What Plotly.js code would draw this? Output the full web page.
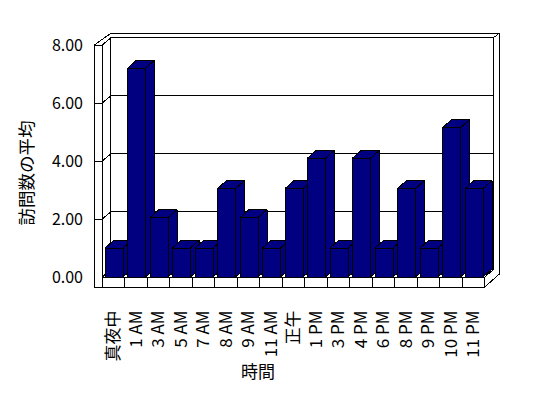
<!DOCTYPE html>
<html>
<head>
<meta charset="utf-8">
<script src="https://cdn.plot.ly/plotly-3.0.1.min.js"></script>
<style>
  html, body { margin: 0; padding: 0; background: #fff; }
  #chart { width: 548px; height: 398px; }
  #chart path { shape-rendering: crispEdges; }
</style>
</head>
<body>
<div id="chart"></div>
<script>
// ---- data ----
const categories = ['真夜中', '1 AM', '3 AM', '5 AM', '7 AM', '8 AM', '9 AM', '11 AM', '正午',
                    '1 PM', '3 PM', '4 PM', '6 PM', '8 PM', '9 PM', '10 PM', '11 PM'];
const avgVisits = [1, 7.2, 2.05, 1, 1, 3.05, 2.05, 1, 3.05, 4.1, 1, 4.1, 1, 3.05, 1, 5.15, 3.05];
const yTickVals = [0, 2, 4, 6, 8];
const yTickText = ['0.00', '2.00', '4.00', '6.00', '8.00'];
const xTitle = '時間';
const yTitle = '訪問数の平均';

// ---- geometry (pixel layout of the 3D box) ----
const W = 548, H = 398;
const PL = 90, PR = 505, PT = 30, PB = 316;
const FRONT_X0 = 102.3, CAT_PX = 22.5, ZERO_Y = 277, UNIT_PX = 29;
const N = categories.length;
const X0 = -0.5, X1 = N - 0.5, YMAX = 8;
const DX = 0.38, DY = 0.25;          // wall depth
const LT = 8 / CAT_PX;              // left slab thickness
const FT = 10 / UNIT_PX;            // floor slab thickness
const TT = 4.5 / UNIT_PX;           // top rim thickness
const RT = 6 / CAT_PX;              // right rim thickness
const BDX = 0.4, BDY = 0.276;       // bar depth
const BHALF = 0.4, BSHIFT = 0.02;

const xRange = [X0 - (FRONT_X0 - PL) / CAT_PX, X0 + (PR - FRONT_X0) / CAT_PX];
const yRange = [-(PB - ZERO_Y) / UNIT_PX, (ZERO_Y - PT) / UNIT_PX];

const NAVY = '#000080';
const LINE = {color: '#000', width: 1};
const FONT = '"Noto Sans CJK JP", "Noto Sans", sans-serif';

// frame shapes
const shapes = [];
function seg(xa, ya, xb, yb) {
  shapes.push({type: 'line', xref: 'x', yref: 'y', x0: xa, y0: ya, x1: xb, y1: yb, line: LINE, layer: 'below'});
}
function rect(xa, ya, xb, yb) {
  shapes.push({type: 'rect', xref: 'x', yref: 'y', x0: xa, y0: ya, x1: xb, y1: yb, line: LINE, fillcolor: 'rgba(0,0,0,0)', layer: 'below'});
}
// back wall
rect(X0 + DX, DY, X1 + DX, YMAX + DY);
// outer top rim
seg(X0 - LT, YMAX, X0 + DX, YMAX + DY + TT);
seg(X0 + DX, YMAX + DY + TT, X1 + DX + RT, YMAX + DY + TT);
seg(X1 + DX, YMAX + DY, X1 + DX + RT, YMAX + DY + TT);
// right outer edge
seg(X1 + DX + RT, YMAX + DY + TT, X1 + DX + RT, 3 / UNIT_PX);
// left wall slab front
rect(X0 - LT, -FT, X0, YMAX);
seg(X0, YMAX, X0 + DX, YMAX + DY);
// floor slab front
rect(X0, -FT, X1, 0);
for (let k = 1; k < N; k++) seg(X0 + k, -FT, X0 + k, 0);
seg(X1, 0, X1 + DX, DY);
seg(X1, -FT, X1 + DX + RT, 3 / UNIT_PX);
seg(X0, 0, X0 + DX, DY);
// gridlines
yTickVals.forEach(v => {
  if (v > 0 && v < YMAX) {
    seg(X0 + DX, v + DY, X1 + DX, v + DY);
    seg(X0, v, X0 + DX, v + DY);
    seg(X0 - LT, v, X0, v);
  }
});

// bars
const traces = avgVisits.map((v, i) => {
  const c = i + BSHIFT, L = c - BHALF, R = c + BHALF;
  const xs = [L, R, R, L, L, null,
              R, R + BDX, R + BDX, R, R, null,
              L, R, R + BDX, L + BDX, L];
  const ys = [0, 0, v, v, 0, null,
              0, BDY, v + BDY, v, 0, null,
              v, v, v + BDY, v + BDY, v];
  return {type: 'scatter', mode: 'lines', x: xs, y: ys, fill: 'toself', fillcolor: NAVY,
          line: {color: '#000', width: 1}, hoverinfo: 'skip', showlegend: false, connectgaps: false};
});
// empty trace so the title-only axis (x2) is drawn
traces.push({type: 'scatter', mode: 'markers', x: [null], y: [null], xaxis: 'x2', yaxis: 'y',
             hoverinfo: 'skip', showlegend: false});

const layout = {
  width: W, height: H,
  margin: {l: PL, r: W - PR, t: PT, b: H - PB, pad: 0},
  paper_bgcolor: '#fff', plot_bgcolor: 'rgba(0,0,0,0)',
  showlegend: false,
  font: {family: FONT, size: 16, color: '#000'},
  xaxis: {
    range: xRange, showgrid: false, zeroline: false, showline: false, ticks: '',
    tickmode: 'array', tickvals: categories.map((_, i) => i), ticktext: categories,
    tickangle: -90, ticklabelstandoff: -10, tickfont: {family: FONT, size: 17, color: '#000'},
    fixedrange: true
  },
  xaxis2: {
    domain: [0, (2 * (258 - PL)) / (PR - PL)], anchor: 'y', range: [0, 1],
    showgrid: false, zeroline: false, showline: false, ticks: '', showticklabels: false,
    title: {text: xTitle, font: {family: FONT, size: 17, color: '#000'}, standoff: 50},
    fixedrange: true
  },
  yaxis: {
    range: yRange, showgrid: false, zeroline: false, showline: false, ticks: '',
    tickmode: 'array', tickvals: yTickVals, ticktext: yTickText,
    ticklabelstandoff: 6, tickfont: {family: FONT, size: 16, color: '#000'},
    title: {text: yTitle, font: {family: FONT, size: 17.5, color: '#000'}, standoff: 13},
    fixedrange: true
  },
  shapes: shapes
};

Plotly.newPlot('chart', traces, layout, {staticPlot: true, displayModeBar: false});
</script>
</body>
</html>
